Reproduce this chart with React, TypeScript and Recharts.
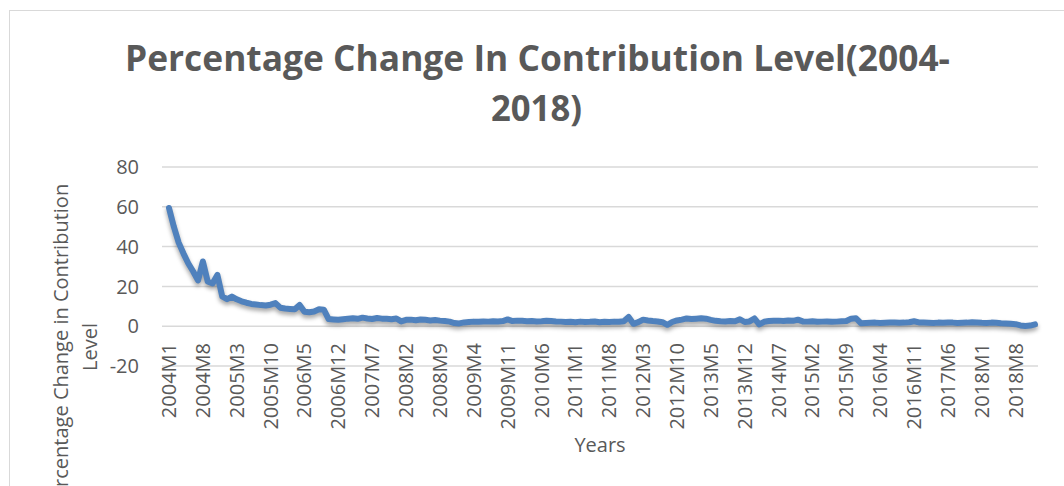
import { LineChart, Line, XAxis, YAxis, CartesianGrid, Label } from 'recharts'

const years = [2004, 2005, 2006, 2007, 2008, 2009, 2010, 2011, 2012, 2013, 2014, 2015, 2016, 2017, 2018]

// monthly % change, one array per year (M1..M12)
const v2004 = [59.4, 50, 42, 36.5, 31.5, 27.5, 23, 32.5, 22.5, 21.5, 25.8, 15]
const v2005 = [13.6, 14.9, 13.5, 12.5, 11.8, 11.2, 10.9, 10.6, 10.4, 10.8, 11.6, 9.3]
const v2006 = [8.9, 8.7, 8.5, 10.7, 7.3, 7.0, 7.4, 8.5, 8.3, 3.6, 3.4, 3.2]
const v2007 = [3.5, 3.8, 4.0, 3.7, 4.3, 3.9, 3.6, 4.1, 3.8, 3.7, 3.5, 3.9]
const v2008 = [2.4, 3.2, 3.3, 3.0, 3.4, 3.2, 2.9, 3.1, 2.8, 2.6, 2.3, 1.6]
const v2009 = [1.4, 1.9, 2.1, 2.3, 2.2, 2.4, 2.3, 2.5, 2.4, 2.6, 3.4, 2.6]
const v2010 = [2.8, 2.7, 2.5, 2.6, 2.4, 2.5, 2.7, 2.6, 2.4, 2.3, 2.1, 2.2]
const v2011 = [2.0, 2.3, 2.1, 2.2, 2.4, 2.0, 2.2, 2.1, 2.3, 2.2, 2.5, 4.6]
const v2012 = [1.2, 2.0, 3.3, 2.9, 2.6, 2.4, 2.0, 0.7, 2.1, 2.9, 3.3, 3.9]
const v2013 = [3.6, 3.8, 4.0, 3.8, 3.2, 2.7, 2.5, 2.4, 2.6, 2.5, 3.5, 2.1]
const v2014 = [2.4, 3.9, 0.9, 2.2, 2.6, 2.7, 2.8, 2.6, 2.9, 2.7, 3.3, 2.4]
const v2015 = [2.3, 2.5, 2.2, 2.3, 2.4, 2.2, 2.3, 2.5, 2.6, 3.8, 4.0, 1.5]
const v2016 = [1.6, 1.7, 1.8, 1.6, 1.7, 1.8, 1.9, 1.7, 1.8, 2.0, 2.5, 1.9]
const v2017 = [1.8, 1.7, 1.6, 1.8, 1.7, 1.9, 1.8, 1.6, 1.7, 1.8, 2.0, 1.9]
const v2018 = [1.7, 1.6, 1.8, 1.7, 1.5, 1.4, 1.2, 1.0, 0.4, 0.1, 0.3, 0.9]

const yTicks = [-20, 0, 20, 40, 60, 80]

const values = [
  ...v2004, ...v2005, ...v2006, ...v2007, ...v2008, ...v2009, ...v2010, ...v2011,
  ...v2012, ...v2013, ...v2014, ...v2015, ...v2016, ...v2017, ...v2018,
]
const months = years.flatMap((y) => Array.from({ length: 12 }, (_, i) => `${y}M${i + 1}`))
const data = months.map((month, i) => ({ month, change: values[i] }))

const font = '"Open Sans", sans-serif'
const grey = '#595959'

function MonthTick({ x, y, payload }: any) {
  return (
    <text
      transform={`translate(${x},${y - 23}) rotate(-90)`}
      textAnchor="end"
      dy="0.35em"
      fill={grey}
      fontSize={20}
      fontFamily={font}
    >
      {payload.value}
    </text>
  )
}

export default function App() {
  return (
    <div style={{ position: 'relative', width: 1064, height: 486, overflow: 'hidden', background: '#fff' }}>
      <style>{`body{margin:0}.recharts-line-curve{filter:drop-shadow(0px 3px 2px rgba(0,0,0,0.35))}`}</style>
      <div style={{ position: 'absolute', left: 9, top: 10, width: 1100, height: 600, border: '1.5px solid #d9d9d9' }} />
      <LineChart width={1064} height={486} data={data} margin={{ top: 167, right: 26, bottom: 0, left: 0 }}>
        <CartesianGrid vertical={false} stroke="#d9d9d9" strokeWidth={1.5} />
        <XAxis
          dataKey="month"
          scale="point"
          interval={6}
          tick={<MonthTick />}
          tickLine={false}
          axisLine={false}
          tickSize={0}
          tickMargin={0}
          height={120}
          padding={{ left: 7, right: 3 }}
        >
          <Label value="Years" position="insideBottom" offset={34} fill={grey} fontSize={20} fontFamily={font} />
        </XAxis>
        <YAxis
          domain={[-20, 80]}
          ticks={yTicks}
          width={162}
          tickLine={false}
          axisLine={false}
          tickSize={0}
          tickMargin={23}
          tick={{ fill: grey, fontSize: 20, fontFamily: font }}
        />
        <Line
          type="linear"
          dataKey="change"
          stroke="#4F81BD"
          strokeWidth={6}
          strokeLinejoin="round"
          strokeLinecap="round"
          dot={false}
          activeDot={false}
          isAnimationActive={false}
        />
      </LineChart>
      <svg width={1064} height={486} style={{ position: 'absolute', left: 0, top: 0, pointerEvents: 'none' }}>
        <text x={537.5} y={71} textAnchor="middle" fontFamily={font} fontWeight="bold" fontSize={36} fill={grey} textLength={825} lengthAdjust="spacingAndGlyphs">
          Percentage Change In Contribution Level(2004-
        </text>
        <text x={536.5} y={121} textAnchor="middle" fontFamily={font} fontWeight="bold" fontSize={36} fill={grey} textLength={91} lengthAdjust="spacingAndGlyphs">
          2018)
        </text>
        <text transform="translate(68,347) rotate(-90)" textAnchor="middle" fontFamily={font} fontSize={20} fill={grey}>
          Percentage Change in Contribution
        </text>
        <text transform="translate(97,347) rotate(-90)" textAnchor="middle" fontFamily={font} fontSize={20} fill={grey}>
          Level
        </text>
      </svg>
    </div>
  )
}
